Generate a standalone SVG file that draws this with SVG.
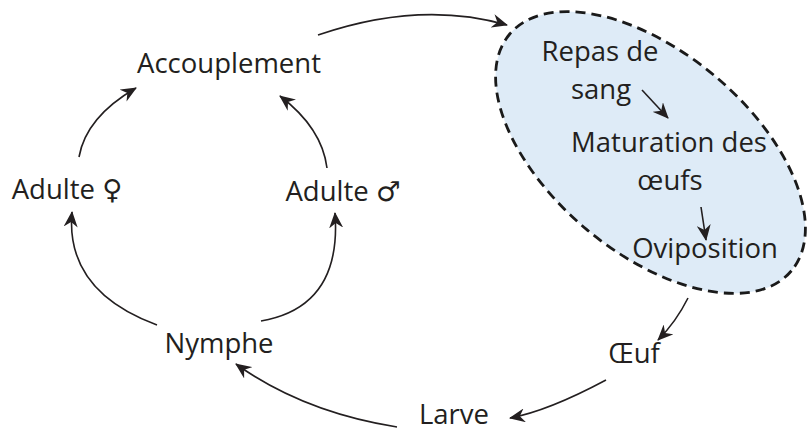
<svg xmlns="http://www.w3.org/2000/svg" width="808" height="432" viewBox="0 0 808 432">
<style>
text{font-family:"Open Sans","Noto Sans","DejaVu Sans",sans-serif;font-size:27.5px;fill:#231f20;text-anchor:middle}
.c{fill:none;stroke:#231f20;stroke-width:1.6}
</style>
<defs>
<marker id="ah" markerUnits="userSpaceOnUse" viewBox="0 0 16 14" refX="15" refY="7" markerWidth="16" markerHeight="14" orient="auto">
<path d="M0,0 L16,7 L0,14 L5,7 z" fill="#231f20"/>
</marker>
</defs>
<rect width="808" height="432" fill="#fff"/>
<g id="cluster">
<ellipse cx="650.5" cy="152.5" rx="184" ry="100" transform="rotate(40 650.5 152.5)" fill="#deebf7" stroke="#1a1a1a" stroke-width="2.8" stroke-dasharray="10 6"/>
</g>
<g id="connectors">
<path class="c" d="M318,35 Q420,0 507,25" marker-end="url(#ah)"/>
<path class="c" d="M79,157 Q86,117 136,88" marker-end="url(#ah)"/>
<path class="c" d="M327,168 Q322,128 280,96" marker-end="url(#ah)"/>
<path class="c" d="M157,325 Q65,291 72,212" marker-end="url(#ah)"/>
<path class="c" d="M261,321 Q342,307 335,213" marker-end="url(#ah)"/>
<path class="c" d="M688,298 Q676,322 658,340" marker-end="url(#ah)"/>
<path class="c" d="M606,380 Q548,411 510,418" marker-end="url(#ah)"/>
<path class="c" d="M397,427 Q303,412 236,364" marker-end="url(#ah)"/>
<path class="c" d="M642,90 L668,118" marker-end="url(#ah)"/>
<path class="c" d="M701,207 L706,240" marker-end="url(#ah)"/>
</g>
<g id="accouplement"><text x="229" y="73">Accouplement</text></g>
<g id="adulte-f"><text x="67" y="199">Adulte ♀</text></g>
<g id="adulte-m"><text x="343" y="201">Adulte ♂</text></g>
<g id="nymphe"><text x="219" y="353">Nymphe</text></g>
<g id="larve"><text x="454" y="424">Larve</text></g>
<g id="oeuf"><text x="634" y="363">Œuf</text></g>
<g id="repas"><text x="600" y="61">Repas de</text><text x="601" y="99">sang</text></g>
<g id="maturation"><text x="669" y="152">Maturation des</text><text x="670" y="190">œufs</text></g>
<g id="oviposition"><text x="705" y="258">Oviposition</text></g>
</svg>
